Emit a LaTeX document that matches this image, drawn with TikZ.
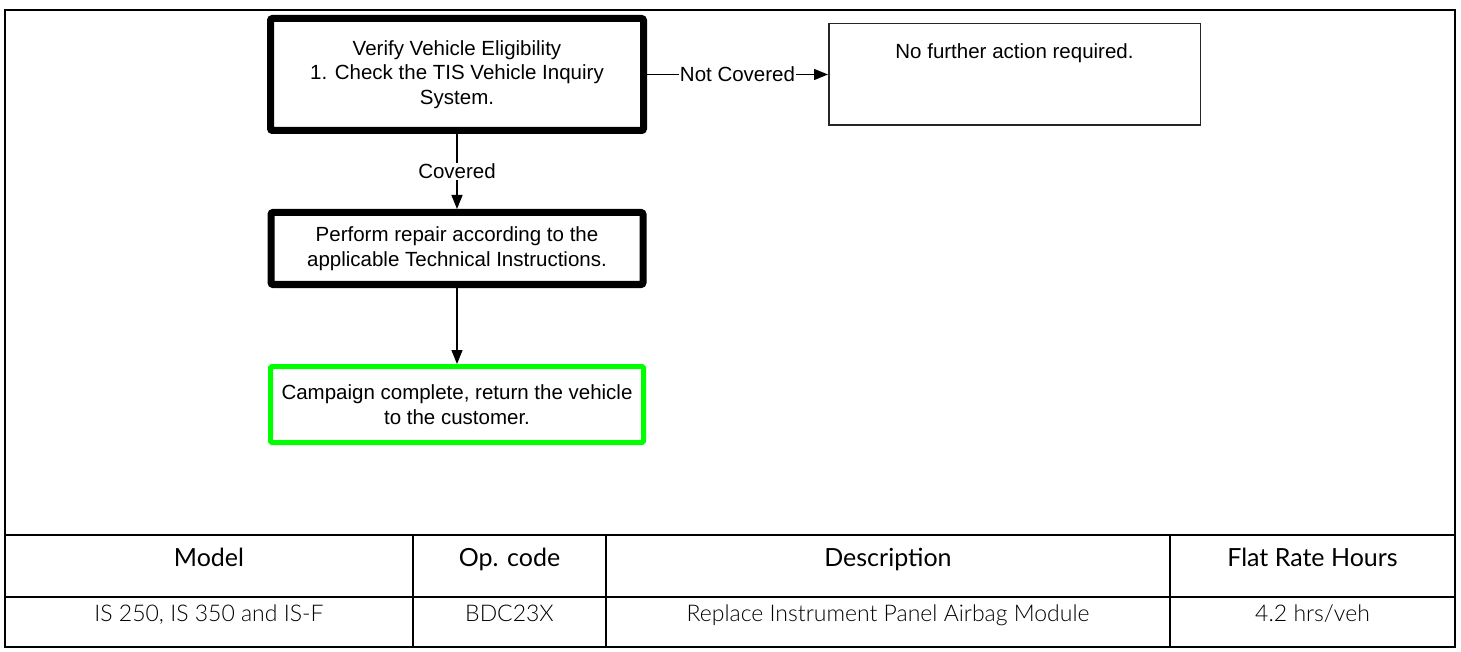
\documentclass[tikz,border=0pt]{standalone}
\usepackage{fontspec}
\setmainfont{Liberation Sans}
\newfontfamily\tabheadfont{Lato}
\newfontfamily\tabbodyfont{Lato Light}
\usetikzlibrary{arrows.meta}
\definecolor{limegreen}{RGB}{0,255,0}
\tikzset{
  flow/.style={font=\fontsize{20.5}{24.7}\selectfont, align=center, inner sep=0pt},
  heavybox/.style={flow, draw=black, line width=7pt, rounded corners=2pt},
  thinbox/.style={draw=black!85, line width=1.5pt},
  greenbox/.style={flow, draw=limegreen, line width=5pt, rounded corners=1.5pt},
  conn/.style={line width=1.4pt, -{Triangle[length=14pt,width=11pt]}},
  edgelabel/.style={flow, fill=white, inner sep=1pt},
  rulel/.style={line width=2pt},
  headtxt/.style={font=\tabheadfont\fontsize{25}{30}\selectfont, anchor=base, inner sep=0pt},
  bodytxt/.style={font=\tabbodyfont\fontsize{23}{27}\selectfont, anchor=base, inner sep=0pt},
}
\begin{document}
\begin{tikzpicture}[x=1pt,y=-1pt]
\useasboundingbox (0,0) rectangle (1461,652);
\fill[white] (0,0) rectangle (1461,652);
% outer frame
\draw[rulel] (5,10) rectangle (1455,647);
% flow boxes
\node[heavybox, minimum width=373pt, minimum height=112pt] (verify) at (457,74.5)
  {Verify Vehicle Eligibility\\1. Check the TIS Vehicle Inquiry\\System.};
\node[thinbox, minimum width=371.5pt, minimum height=101.5pt] (nofurther) at (1014.5,74.5) {};
\node[flow] (nofurthertext) at (1014.5,53) {No further action required.};
\node[heavybox, minimum width=372pt, minimum height=72pt] (repair) at (457,248.5)
  {Perform repair according to the\\applicable Technical Instructions.};
\node[greenbox, minimum width=373pt, minimum height=76pt] (done) at (457,404.5)
  {Campaign complete, return the vehicle\\to the customer.};
% connectors
\draw[conn] (verify.east) -- node[edgelabel] (lblnot) {Not Covered} (nofurther.west);
\draw[conn] (verify.south) -- node[edgelabel] (lblcov) {Covered} (repair.north);
\draw[conn] (repair.south) -- (done.north);
% table
\draw[rulel] (5,535) -- (1455,535);
\draw[rulel] (5,597) -- (1455,597);
\draw[rulel] (413,535) -- (413,647);
\draw[rulel] (606,535) -- (606,647);
\draw[rulel] (1170,535) -- (1170,647);
\node[headtxt] (hmodel) at (209,566) {Model};
\node[headtxt] (hop) at (509.5,566) {Op. code};
\node[headtxt] (hdesc) at (888,566) {Description};
\node[headtxt] (hflat) at (1312.5,566) {Flat Rate Hours};
\node[bodytxt] (bmodel) at (209,621) {IS 250, IS 350 and IS-F};
\node[bodytxt] (bop) at (509.5,621) {BDC23X};
\node[bodytxt] (bdesc) at (888,621) {Replace Instrument Panel Airbag Module};
\node[bodytxt] (bflat) at (1312.5,621) {4.2 hrs/veh};
\end{tikzpicture}
\end{document}
